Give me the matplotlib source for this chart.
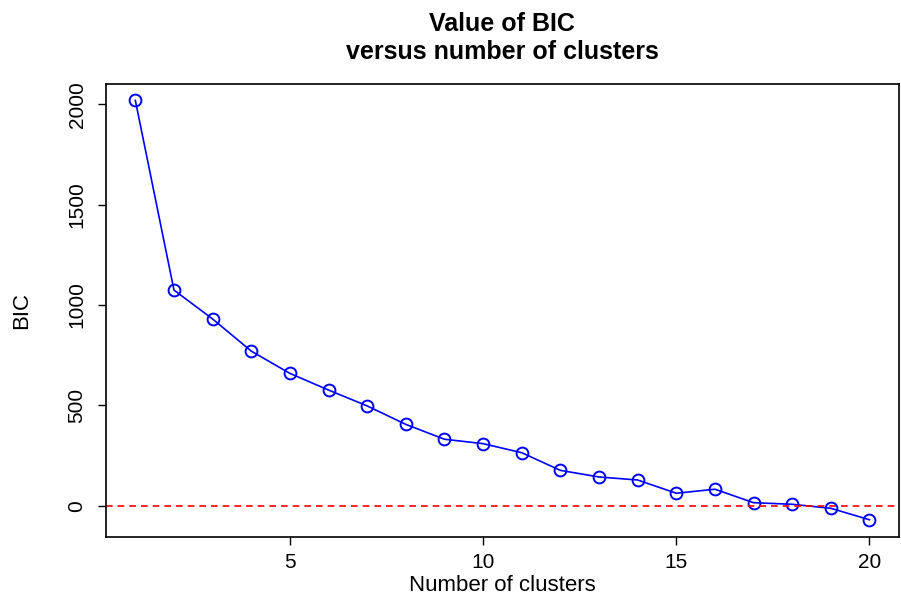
import matplotlib
matplotlib.use('Agg')
import matplotlib.pyplot as plt

plt.rcParams['font.family'] = ['Liberation Sans', 'DejaVu Sans']

# number of clusters and BIC values
clusters = list(range(1, 21))
bic = [2019, 1074, 930, 770, 659, 576, 497, 405, 331, 309,
       264, 176, 143, 128, 62, 82, 15, 7, -13, -70]

fig = plt.figure(figsize=(9.01, 5.96), dpi=100)
ax = fig.add_axes([0.1176, 0.0998, 0.880, 0.760])

ax.plot(clusters, bic, color='blue', linewidth=1.2, marker='o', markersize=8.5,
        markerfacecolor='none', markeredgecolor='blue', markeredgewidth=1.4)
ax.axhline(y=0, color='red', linestyle=(0, (4, 3)), linewidth=1.2)

ax.margins(x=0.04, y=0.04)
ax.set_xticks([5, 10, 15, 20])
ax.set_yticks([0, 500, 1000, 1500, 2000])
ax.tick_params(direction='out', length=6, width=1, labelsize=15)
ax.tick_params(axis='x', pad=6)
ax.tick_params(axis='y', pad=8)
plt.setp(ax.get_yticklabels(), rotation=90, va='center')
for s in ax.spines.values():
    s.set_linewidth(1.2)

ax.set_xlabel('Number of clusters', fontsize=16)
ax.set_ylabel('BIC', fontsize=16)
ax.xaxis.set_label_coords(0.5, -0.084)
ax.yaxis.set_label_coords(-0.093, 0.5)
ax.set_title('Value of BIC\nversus number of clusters', fontsize=18,
             fontweight='bold', pad=18, linespacing=1.18)

plt.savefig('out.png')
